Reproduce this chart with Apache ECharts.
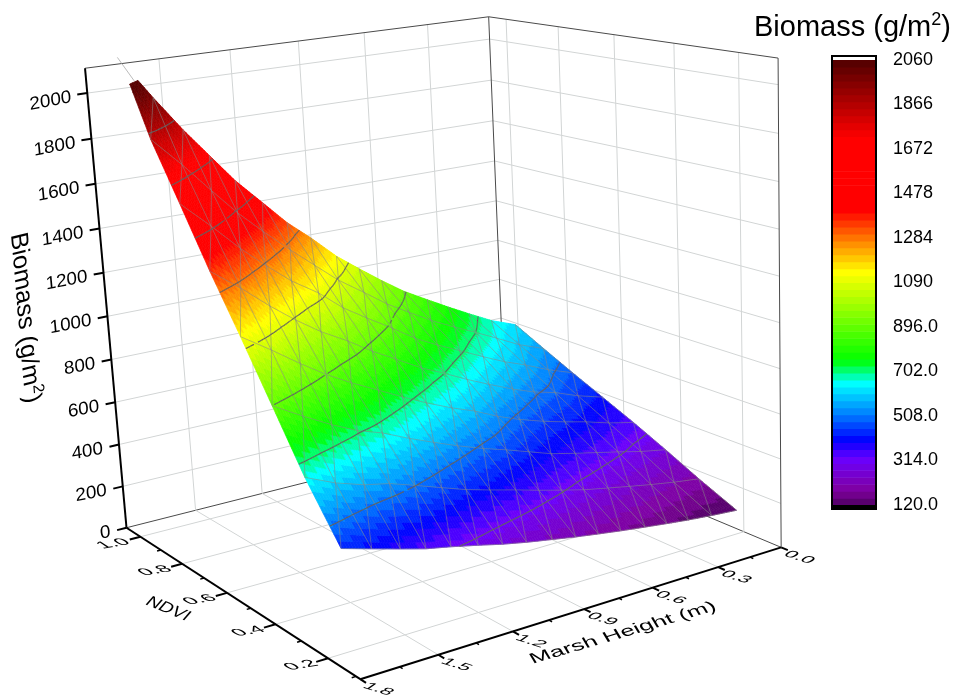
<!DOCTYPE html>
<html><head><meta charset="utf-8"><style>html,body{margin:0;background:#fff}#c{width:955px;height:699px}</style>
<script src="https://cdn.jsdelivr.net/npm/echarts@6/dist/echarts.min.js"></script></head><body><div id="c"></div>
<script>
// ---- chart values ----
const marshTicks=[0,0.3,0.6,0.9,1.2,1.5,1.8];
const marshMinor=[0.15,0.45,0.75,1.05,1.35,1.65];
const ndviTicks=[0.2,0.4,0.6,0.8,1.0];
const ndviMinor=[0.1,0.3,0.5,0.7,0.9];
const biomassTicks=[0,200,400,600,800,1000,1200,1400,1600,1800,2000];
const legendTicks=[120,314,508,702,896,1090,1284,1478,1672,1866,2060];
const contourLevels=[314,508,702,896,1090,1284,1478,1672,1866];
const colorValues=[120,185,325,403,520,652,752,1136,1275,1406,1720,2060];
const colorHexes=['#4d0060','#80009f','#6a00ff','#0000ff','#0080ff','#00ffff','#00ff00','#ffff00','#ff8000','#ff0000','#ff0000','#500000'];
const marshGrid=[0.05,0.17,0.28,0.38,0.48,0.59,0.69,0.79,0.89,1.0,1.1,1.2,1.31,1.41,1.51,1.62,1.735];
const ndviGrid=[0.19,0.31,0.42,0.53,0.64,0.75,0.86,0.97];
const biomass=[
[120,196,272,344,411,478,548,620],
[130,213,295,372,447,521,594,667],
[141,232,322,405,489,570,651,725],
[153,251,345,430,516,609,702,780],
[166,271,368,458,554,656,750,838],
[181,293,395,494,603,711,807,903],
[196,319,430,534,650,760,867,975],
[212,346,465,583,702,814,929,1052],
[230,375,497,622,750,884,1004,1132],
[250,405,538,672,816,955,1084,1240],
[271,434,579,723,875,1023,1173,1330],
[296,470,622,777,943,1111,1263,1440],
[322,510,674,836,1009,1187,1368,1560],
[343,545,710,896,1082,1275,1469,1690],
[372,567,760,966,1164,1371,1585,1820],
[405,605,824,1049,1264,1488,1717,1977],
[440,659,896,1131,1359,1604,1844,2150]];
const legendMin=120,legendMax=2060,bandCount=64;
const spike=[[1.69,0.97,2060],[1.74,0.98,2165]];
// ---- perspective camera of the 3D box, fitted to the box corners ----
const N0=.085,N1=1.07,Z1=2108,H1=1.8;
const cal=[[1.8,N1,0,125,525],[1.8,N0,0,357,677],[0,N0,0,782,548],[0,N1,0,504,430],[1.8,N1,Z1,85,68],[0,N1,Z1,489,18],[0,N0,Z1,778,58],
[1.8,N1,2000,87,92],[1.5,N0,0,437,653],[1.2,N0,0,513,632],[.9,N0,0,583,609],[.6,N0,0,653,587],[.3,N0,0,720,568],
[1.8,.2,0,327,658],[1.8,.4,0,277,625],[1.8,.6,0,230,595],[1.8,.8,0,185,566],[1.8,1,0,140,539]];
function solve(A,b){const n=b.length;for(let i=0;i<n;i++){let p=i;for(let r=i+1;r<n;r++)if(Math.abs(A[r][i])>Math.abs(A[p][i]))p=r;[A[i],A[p]]=[A[p],A[i]];[b[i],b[p]]=[b[p],b[i]];for(let r=i+1;r<n;r++){const f=A[r][i]/A[i][i];for(let c=i;c<n;c++)A[r][c]-=f*A[i][c];b[r]-=f*b[i];}}const x=Array(n);for(let i=n-1;i>=0;i--){let s=b[i];for(let c=i+1;c<n;c++)s-=A[i][c]*x[c];x[i]=s/A[i][i];}return x;}
const nm=(h,n,z)=>[h/H1,(n-N0)/(N1-N0),z/Z1];
const AtA=[...Array(11)].map(()=>Array(11).fill(0)),Atb=Array(11).fill(0);
function add(r,v){for(let i=0;i<11;i++){Atb[i]+=r[i]*v;for(let j=0;j<11;j++)AtA[i][j]+=r[i]*r[j];}}
cal.forEach(c=>{const [X,Y,Z]=nm(c[0],c[1],c[2]),x=c[3]/1000,y=c[4]/1000;add([X,Y,Z,1,0,0,0,0,-x*X,-x*Y,-x*Z],x);add([0,0,0,0,X,Y,Z,1,-y*X,-y*Y,-y*Z],y);});
const P=solve(AtA,Atb);
function proj(h,n,z){const [X,Y,Z]=nm(h,n,z),w=P[8]*X+P[9]*Y+P[10]*Z+1;return[1000*(P[0]*X+P[1]*Y+P[2]*Z+P[3])/w,1000*(P[4]*X+P[5]*Y+P[6]*Z+P[7])/w];}
// ---- colour ramp ----
const rgb=h=>[1,3,5].map(i=>parseInt(h.substr(i,2),16));
function rampColor(v){let i=0;while(i<colorValues.length-2&&v>colorValues[i+1])i++;const t=Math.max(0,Math.min(1,(v-colorValues[i])/(colorValues[i+1]-colorValues[i])));const a=rgb(colorHexes[i]),b=rgb(colorHexes[i+1]);return'rgb('+a.map((c,k)=>Math.round(c+(b[k]-c)*t)).join(',')+')';}
const bandStep=(legendMax-legendMin)/bandCount;
function bandColor(v){const k=Math.max(0,Math.min(bandCount-1,Math.floor((v-legendMin)/bandStep)));return rampColor(legendMin+(k+.5)*bandStep);}
// ---- helpers ----
const FONT='"Liberation Sans",Arial,sans-serif';
const pt=(api,h,n,z)=>api.coord(proj(h,n,z));
function seg(a,b,stroke,w){return{type:'line',silent:true,shape:{x1:a[0],y1:a[1],x2:b[0],y2:b[1]},style:{stroke,lineWidth:w}};}
// text drawn under an arbitrary 2x2 map: u = image of the baseline, w = image of the glyph's downward direction
function affineText(text,c,u,w,size,align,rich){const a=u[0],b=w[0],cc=u[1],d=w[1];const E=(a+d)/2,F=(a-d)/2,G=(cc+b)/2,H=(cc-b)/2;const Q=Math.hypot(E,H),R=Math.hypot(F,G);const a1=Math.atan2(G,F),a2=Math.atan2(H,E);
const style={text,x:0,y:0,align:align||'center',verticalAlign:'middle',fontSize:size,fontFamily:FONT,fill:'#000'};if(rich)style.rich=rich;
return{type:'group',silent:true,x:c[0],y:c[1],rotation:-(a2+a1)/2,scaleX:Q+R,scaleY:Q-R,children:[{type:'text',rotation:-(a2-a1)/2,style}]};}
const GRID='#d2d5d5',EDGE='#4a4a4a';
const cells=[];for(let i=0;i<marshGrid.length-1;i++)for(let j=0;j<ndviGrid.length-1;j++)cells.push([i,j]);
const SUB=10;
function nodeSample(i,j,s,t){const h=marshGrid[i]+(marshGrid[i+1]-marshGrid[i])*s,n=ndviGrid[j]+(ndviGrid[j+1]-ndviGrid[j])*t;
const z=(1-s)*(1-t)*biomass[i][j]+s*(1-t)*biomass[i+1][j]+(1-s)*t*biomass[i][j+1]+s*t*biomass[i+1][j+1];return[h,n,z];}
function clipTop(q){const out=[];for(let k=0;k<q.length;k++){const A=q[k],B=q[(k+1)%q.length];if(A[2]<=legendMax)out.push(A);if((A[2]-legendMax)*(B[2]-legendMax)<0){const t=(legendMax-A[2])/(B[2]-A[2]);out.push([A[0]+(B[0]-A[0])*t,A[1]+(B[1]-A[1])*t,legendMax]);}}return out;}
function surfaceItem(p,api){const i=api.value(0),j=api.value(1),ch=[];
for(let a=0;a<SUB;a++)for(let b=0;b<SUB;b++){const q=clipTop([nodeSample(i,j,a/SUB,b/SUB),nodeSample(i,j,(a+1)/SUB,b/SUB),nodeSample(i,j,(a+1)/SUB,(b+1)/SUB),nodeSample(i,j,a/SUB,(b+1)/SUB)]);if(q.length<3)continue;const m=q.reduce((s,v)=>s+v[2],0)/q.length;const col=bandColor(m);
ch.push({type:'polygon',silent:true,shape:{points:q.map(v=>pt(api,v[0],v[1],v[2]))},style:{fill:col,stroke:col,lineWidth:.7}});}
return{type:'group',children:ch};}
function meshItem(p,api){const i=api.value(0),j=api.value(1),ch=[];const col='rgba(135,135,135,0.75)';
const node=(a,b)=>[marshGrid[a],ndviGrid[b],biomass[a][b]];
const L=(A,B)=>{if(A[2]>legendMax||B[2]>legendMax)return;ch.push(seg(pt(api,...A),pt(api,...B),col,.75));};
L(node(i,j),node(i+1,j));L(node(i,j),node(i,j+1));L(node(i,j+1),node(i+1,j));
return{type:'group',children:ch};}
function contourItem(p,api){const i=api.value(0),j=api.value(1),ch=[];
for(let a=0;a<SUB;a++)for(let b=0;b<SUB;b++){const q=[nodeSample(i,j,a/SUB,b/SUB),nodeSample(i,j,(a+1)/SUB,b/SUB),nodeSample(i,j,(a+1)/SUB,(b+1)/SUB),nodeSample(i,j,a/SUB,(b+1)/SUB)];
contourLevels.forEach(L=>{const hits=[];for(let k=0;k<4;k++){const A=q[k],B=q[(k+1)%4];if((A[2]-L)*(B[2]-L)<0){const t=(L-A[2])/(B[2]-A[2]);hits.push([A[0]+(B[0]-A[0])*t,A[1]+(B[1]-A[1])*t,L]);}}
if(hits.length>=2)ch.push(seg(pt(api,...hits[0]),pt(api,...hits[1]),'rgb(98,98,98)',1.2));});}
return{type:'group',children:ch};}
const layer={type:'custom',coordinateSystem:'cartesian2d',xAxisIndex:0,yAxisIndex:0,clip:false,silent:true,animation:false};
const chart=echarts.init(document.getElementById('c'));
const superRich=(big,small)=>({a:{fontSize:big,fontFamily:FONT,fill:'#000',color:'#000'},s:{fontSize:small,fontFamily:FONT,fill:'#000',color:'#000',verticalAlign:'top',lineHeight:big*1.2}});
chart.setOption({animation:false,
title:{text:'{a|Biomass (g/m}{s|2}{a|)}',left:749,top:6,textStyle:{fontSize:29,fontWeight:'normal',fontFamily:FONT,color:'#000',rich:superRich(29,18)}},
grid:[{left:0,top:0,width:955,height:699,show:false},{left:832,top:56,width:44,height:453,show:false}],
xAxis:[{type:'value',min:0,max:955,show:false},{type:'value',gridIndex:1,min:0,max:1,show:false}],
yAxis:[{type:'value',min:0,max:699,inverse:true,show:false},
{type:'value',gridIndex:1,position:'right',min:legendMin-17.4,max:legendMax+17.4,splitLine:{show:false},axisLine:{show:false},
axisTick:{show:true,length:9,customValues:legendTicks,lineStyle:{color:'#000',width:1.5}},
axisLabel:{show:true,margin:17,padding:[4,0,0,0],customValues:legendTicks,fontSize:18,fontFamily:FONT,color:'#000',formatter:v=>v<1000?v.toFixed(1):String(v)}}],
series:[
Object.assign({},layer,{data:biomassTicks.map(z=>[z]),renderItem(p,api){const z=api.value(0);const ch=[seg(pt(api,H1,N1,z),pt(api,0,N1,z),z?GRID:EDGE,1),seg(pt(api,0,N1,z),pt(api,0,N0,z),z?GRID:EDGE,1)];
const a=pt(api,H1,N1,z),b=pt(api,H1+.04,N1,z);ch.push(seg(a,b,'#000',2));
ch.push(affineText(String(z),[a[0]-16,a[1]+4],[1.04,-.2],[.09,1],18,'right'));return{type:'group',children:ch};}}),
Object.assign({},layer,{data:marshTicks.map(h=>[h]),renderItem(p,api){const h=api.value(0);const ch=[];if(h>0&&h<H1)ch.push(seg(pt(api,h,N1,0),pt(api,h,N1,Z1),GRID,1));if(h>0&&h<H1)ch.push(seg(pt(api,h,N1,0),pt(api,h,N0,0),GRID,1));
const a=pt(api,h,N0,0),b=pt(api,h,N0-.02,0);ch.push(seg(a,b,'#000',2));
ch.push(affineText(h.toFixed(1),[a[0]+18,a[1]+10],[1.21,.38],[-.72,.5],16));return{type:'group',children:ch};}}),
Object.assign({},layer,{data:marshMinor.map(h=>[h]),renderItem(p,api){const h=api.value(0);return seg(pt(api,h,N0,0),pt(api,h,N0-.01,0),'#000',1.5);}}),
Object.assign({},layer,{data:ndviTicks.map(n=>[n]),renderItem(p,api){const n=api.value(0);const ch=[seg(pt(api,0,n,0),pt(api,0,n,Z1),GRID,1),seg(pt(api,0,n,0),pt(api,H1,n,0),GRID,1)];
const a=pt(api,H1,n,0),b=pt(api,H1+.045,n,0);ch.push(seg(a,b,'#000',2));
ch.push(affineText(n.toFixed(1),[a[0]-27,a[1]+7],[1.32,-.23],[.83,.55],16));return{type:'group',children:ch};}}),
Object.assign({},layer,{data:ndviMinor.map(n=>[n]),renderItem(p,api){const n=api.value(0);return seg(pt(api,H1,n,0),pt(api,H1+.016,n,0),'#000',1.5);}}),
Object.assign({},layer,{data:[[0]],renderItem(p,api){const ch=[seg(pt(api,H1,N1,Z1),pt(api,0,N1,Z1),EDGE,1),seg(pt(api,0,N1,Z1),pt(api,0,N0,Z1),EDGE,1),seg(pt(api,0,N1,0),pt(api,0,N1,Z1),EDGE,1),seg(pt(api,0,N0,0),pt(api,0,N0,Z1),EDGE,1),
seg(pt(api,H1,N1,0),pt(api,H1,N1,Z1),'#000',2),seg(pt(api,H1,N1,0),pt(api,H1,N0,0),'#000',2),seg(pt(api,H1,N0,0),pt(api,0,N0,0),'#000',2),
seg(pt(api,...spike[0]),pt(api,...spike[1]),'#aaaaaa',.8),
affineText('{a|Biomass (g/m}{s|2}{a|)}',[25,318],[.085,1],[-.97,.24],25,'center',superRich(25,16)),
affineText('NDVI',[168,609],[.97,.4],[-.6,.7],18),
affineText('Marsh Height (m)',[623,633],[1.33,-.39],[.45,.75],18)];return{type:'group',children:ch};}}),
Object.assign({},layer,{data:cells,renderItem:surfaceItem}),
Object.assign({},layer,{data:cells,renderItem:meshItem}),
Object.assign({},layer,{data:cells,renderItem:contourItem}),
{type:'custom',coordinateSystem:'cartesian2d',xAxisIndex:1,yAxisIndex:1,clip:false,silent:true,
data:[...Array(bandCount).keys()].map(k=>[k]),renderItem(p,api){const k=api.value(0);const lo=legendMin+k*bandStep,hi=lo+bandStep;const A=api.coord([0,hi]),B=api.coord([1,lo]);return{type:'rect',silent:true,shape:{x:A[0],y:A[1],width:B[0]-A[0],height:B[1]-A[1]+.6},style:{fill:rampColor((lo+hi)/2)}};}},
{type:'custom',coordinateSystem:'cartesian2d',xAxisIndex:1,yAxisIndex:1,clip:false,silent:true,
data:[[0]],renderItem(p,api){const A=api.coord([0,legendMax+17.4]),B=api.coord([1,legendMin-17.4]),c=api.coord([1,legendMin]),d=api.coord([1,legendMax]);
return{type:'group',children:[{type:'rect',silent:true,shape:{x:A[0],y:c[1],width:B[0]-A[0],height:B[1]-c[1]},style:{fill:'#000'}},{type:'rect',silent:true,shape:{x:A[0],y:A[1],width:B[0]-A[0],height:d[1]-A[1]},style:{fill:'#fff'}},{type:'rect',silent:true,shape:{x:A[0],y:A[1],width:B[0]-A[0],height:B[1]-A[1]},style:{fill:'none',stroke:'#000',lineWidth:2}}]};}}
]});
</script></body></html>
